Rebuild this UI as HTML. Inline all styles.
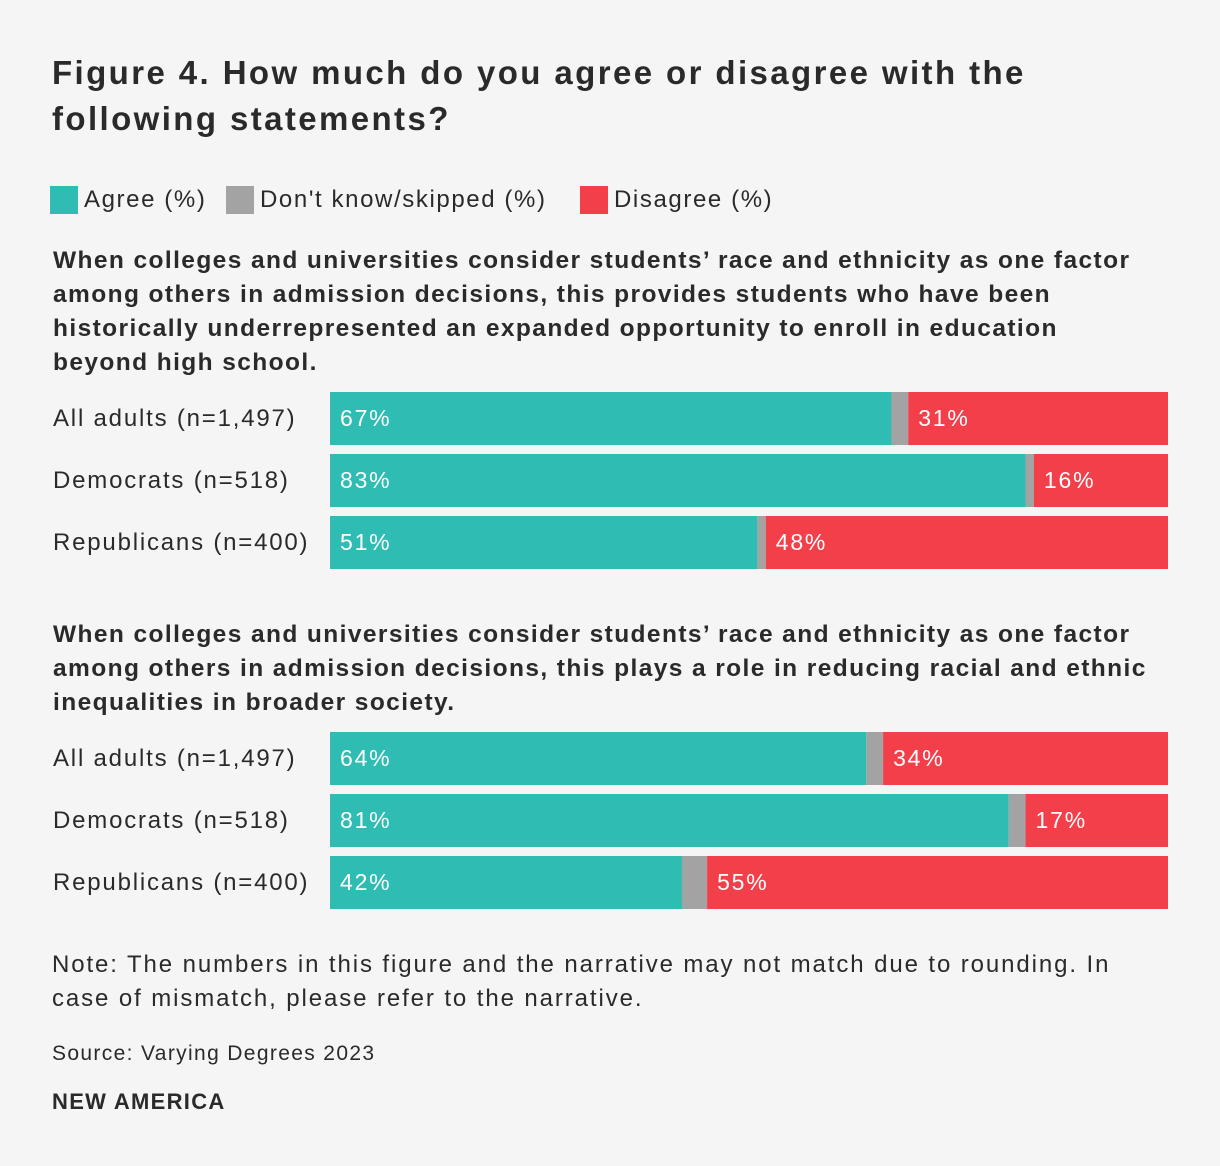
<!DOCTYPE html>
<html><head><meta charset="utf-8">
<style>
body{margin:0;background:#f5f5f5;font-family:"Liberation Sans",Arial,sans-serif;color:#2a2a2a;}
#wrap{position:relative;width:1220px;height:1166px;overflow:hidden;}
.t{position:absolute;white-space:nowrap;}
h1{position:absolute;left:52px;top:50px;margin:0;font-size:33px;line-height:46px;font-weight:bold;color:#2a2a2a;letter-spacing:2.4px;}
.q{position:absolute;left:53px;font-size:24.5px;line-height:34px;font-weight:bold;letter-spacing:1.4px;}
.leg{position:absolute;top:186px;font-size:24px;display:flex;align-items:center;letter-spacing:1.6px;}
.sw{width:28px;height:28px;margin-right:6px;}
.note{position:absolute;left:52px;top:948px;font-size:24px;line-height:34px;letter-spacing:1.9px;}
</style></head><body>
<div id="wrap">
<h1>Figure 4. How much do you agree or disagree with the<br>following statements?</h1>
<div class="leg" style="left:50px"><div class="sw" style="background:#2ebcb3"></div>Agree (%)</div>
<div class="leg" style="left:226px"><div class="sw" style="background:#a3a3a3"></div>Don't know/skipped (%)</div>
<div class="leg" style="left:580px"><div class="sw" style="background:#f33f4a"></div>Disagree (%)</div>
<div class="q" style="top:244px">When colleges and universities consider students’ race and ethnicity as one factor<br>among others in admission decisions, this provides students who have been<br>historically underrepresented an expanded opportunity to enroll in education<br>beyond high school.</div>
<div class="q" style="top:618px">When colleges and universities consider students’ race and ethnicity as one factor<br>among others in admission decisions, this plays a role in reducing racial and ethnic<br>inequalities in broader society.</div>
<svg id="bars" width="1220" height="1166" style="position:absolute;left:0;top:0"></svg>
<div class="note">Note: The numbers in this figure and the narrative may not match due to rounding. In<br>case of mismatch, please refer to the narrative.</div>
<div class="t" style="left:52px;top:1042px;font-size:21px;letter-spacing:1.35px">Source: Varying Degrees 2023</div>
<div class="t" style="left:52px;top:1089px;font-size:22px;font-weight:bold;letter-spacing:1.3px">NEW AMERICA</div>
</div>
<script>
const groups = ["All adults (n=1,497)","Democrats (n=518)","Republicans (n=400)"];
const agree1 = [67,83,51];
const dk1 = [2,1,1];
const disagree1 = [31,16,48];
const agree2 = [64,81,42];
const dk2 = [2,2,3];
const disagree2 = [34,17,55];
const svg=document.getElementById('bars');
const NS='http://www.w3.org/2000/svg';
const x0=330,W=838;
function draw(top,ag,dk,dis){
  groups.forEach((g,i)=>{
    const y=top+i*62,h=53;
    const lab=document.createElementNS(NS,'text');
    lab.setAttribute('x',53);lab.setAttribute('y',y+34);
    lab.setAttribute('font-size','24');lab.setAttribute('fill','#2a2a2a');
    lab.setAttribute('letter-spacing','1.8');
    lab.setAttribute('font-family','Liberation Sans, Arial, sans-serif');
    lab.textContent=g;
    
    
    svg.appendChild(lab);
    const tot=ag[i]+dk[i]+dis[i];
    const segs=[[ag[i],'#2ebcb3'],[dk[i],'#a3a3a3'],[dis[i],'#f33f4a']];
    let x=x0;
    segs.forEach((s,k)=>{
      const w=s[0]/tot*W;
      const r=document.createElementNS(NS,'rect');
      r.setAttribute('x',x);r.setAttribute('y',y);r.setAttribute('width',w);r.setAttribute('height',h);
      r.setAttribute('fill',s[1]);
      
      
      svg.appendChild(r);
      if(k!==1){
        const t=document.createElementNS(NS,'text');
        t.setAttribute('x',x+10);t.setAttribute('y',y+34);
        t.setAttribute('font-size','23');t.setAttribute('fill','#fff');
        t.setAttribute('letter-spacing','1.8');
        t.setAttribute('font-family','Liberation Sans, Arial, sans-serif');
        t.textContent=s[0]+'%';
        
        
        svg.appendChild(t);
      }
      x+=w;
    });
  });
}
draw(392,agree1,dk1,disagree1);
draw(732,agree2,dk2,disagree2);
</script>
</body></html>
